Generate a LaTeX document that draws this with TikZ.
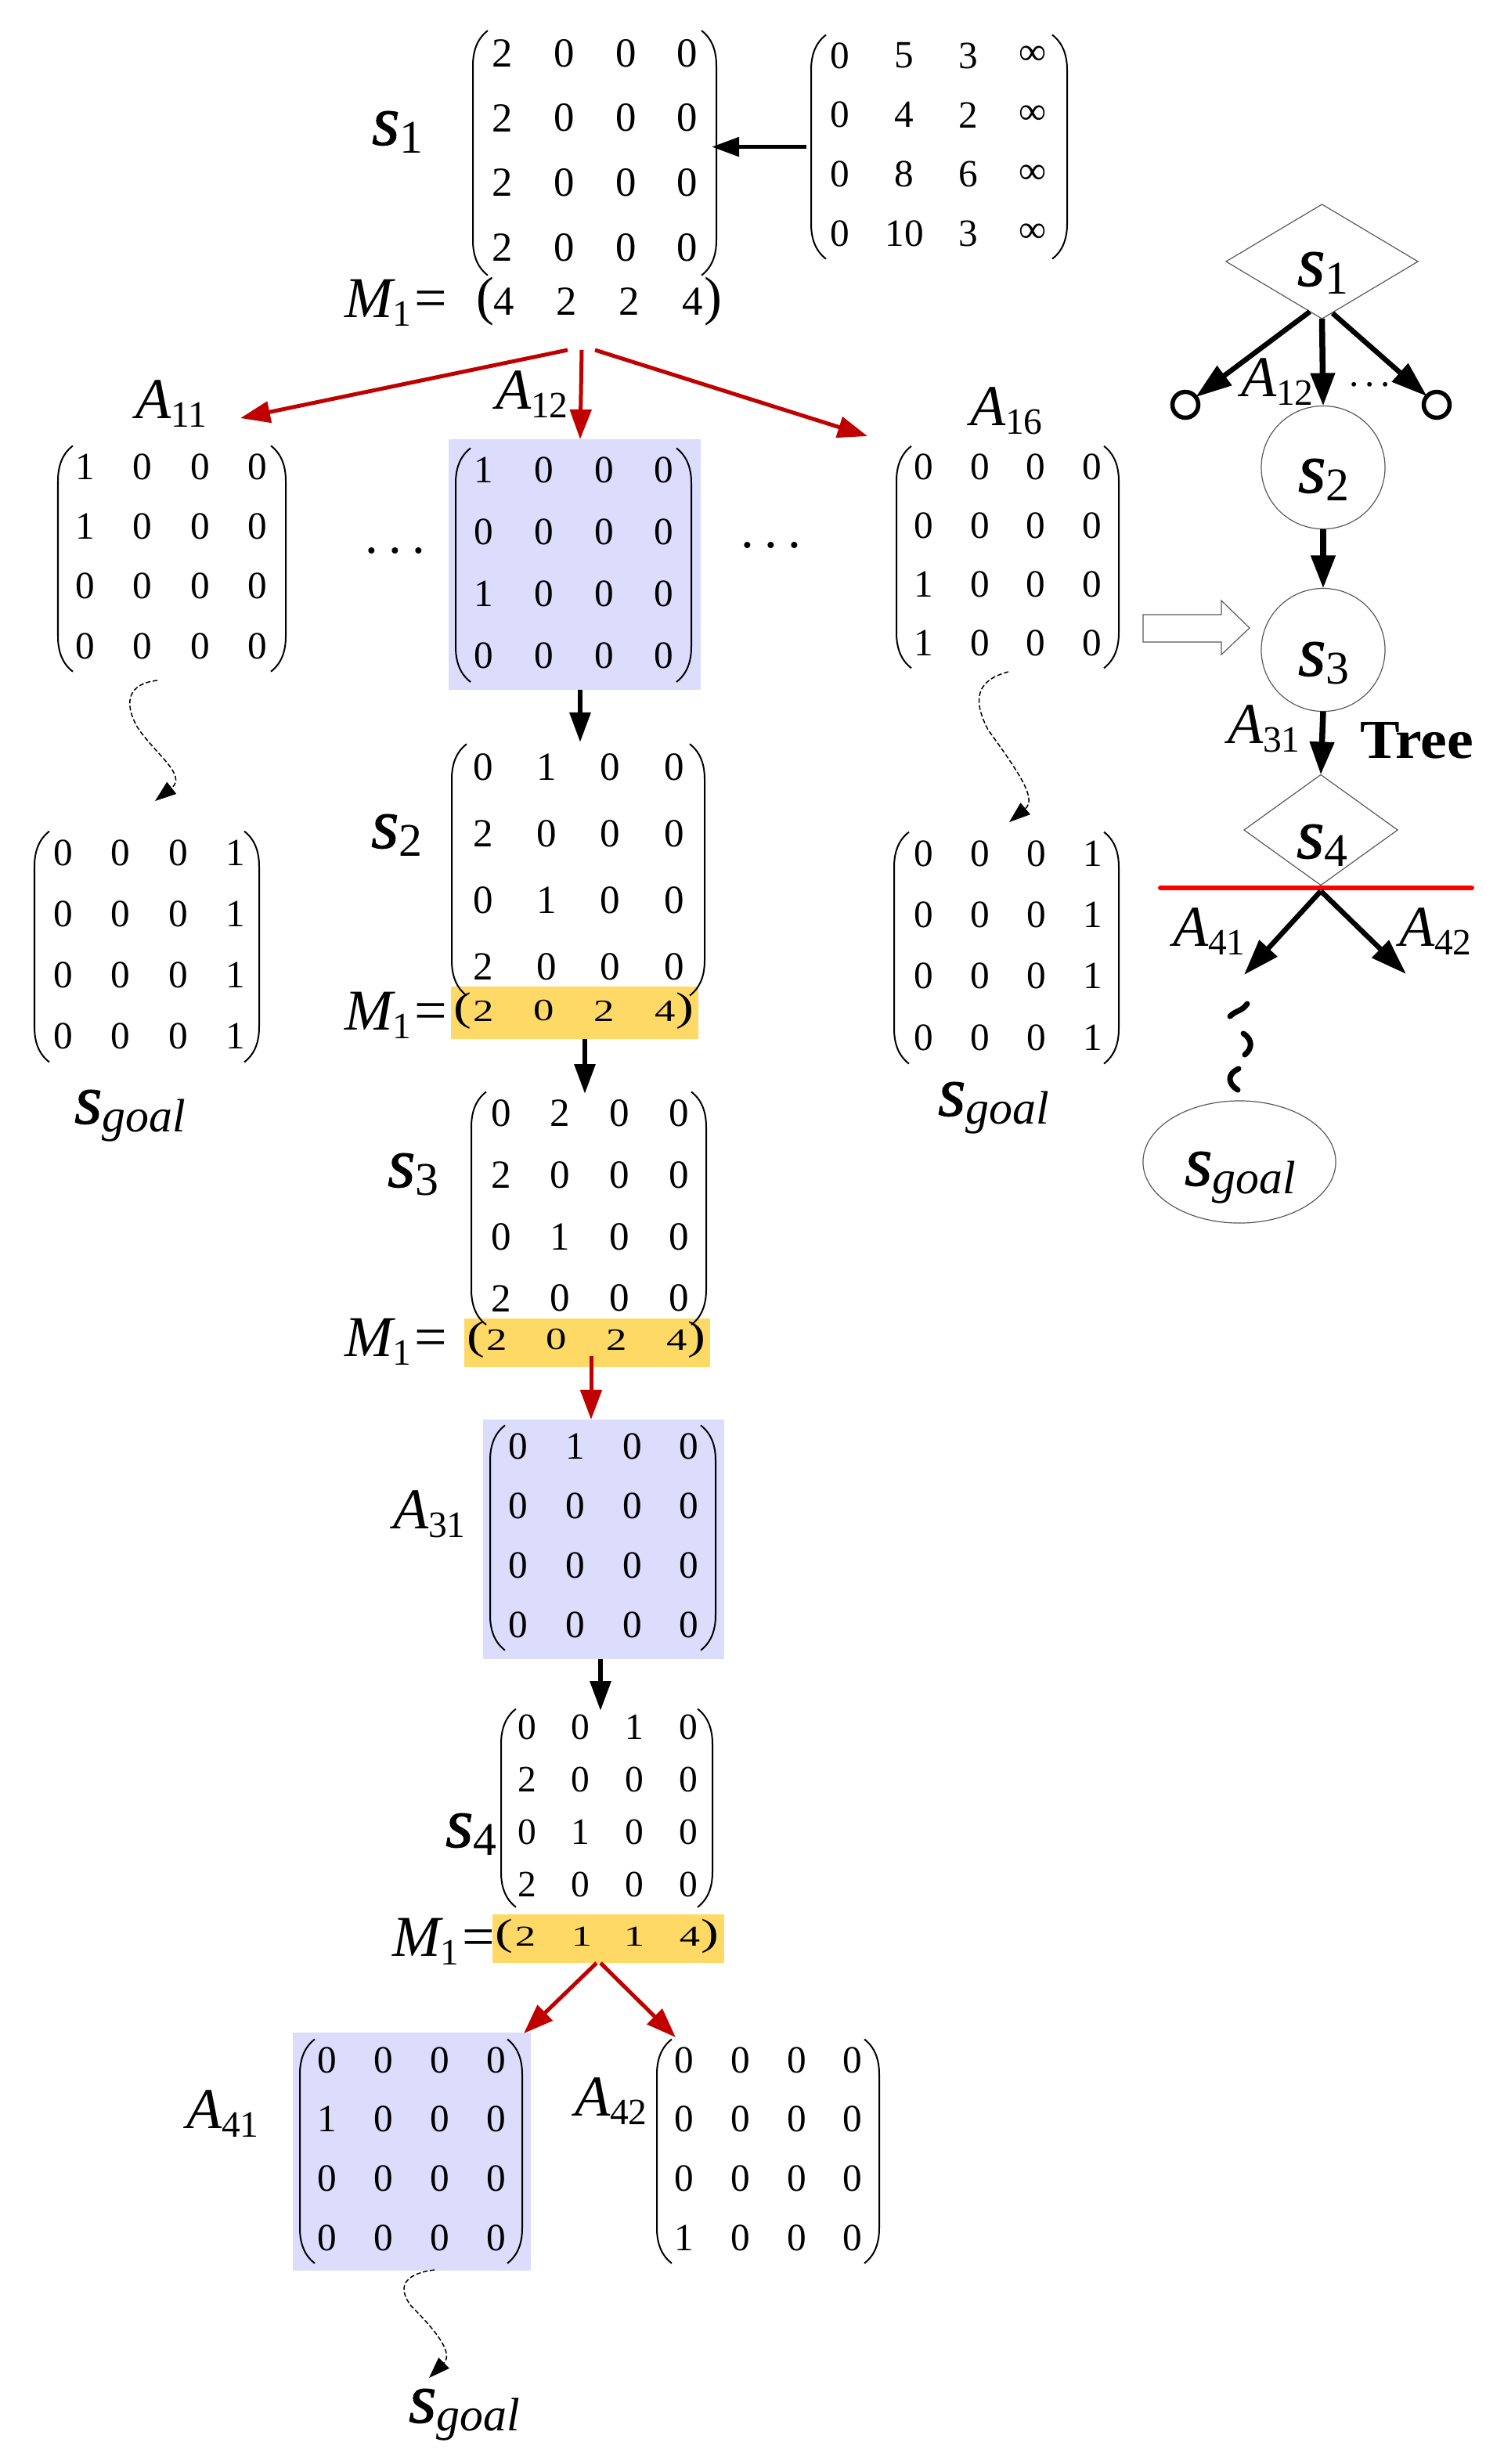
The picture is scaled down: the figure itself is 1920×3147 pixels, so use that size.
\documentclass[tikz,border=0pt]{standalone}
\usepackage{graphicx}
\usepackage{fontspec}
\setmainfont{Liberation Serif}
\newfontface\sface{Liberation Serif Italic}[FakeBold=1]
\usetikzlibrary{calc}
\usetikzlibrary{arrows.meta}
\usetikzlibrary{shapes.geometric}
\definecolor{lavbox}{HTML}{DCDCFC}
\definecolor{orbox}{HTML}{FFD966}
\definecolor{darkred}{HTML}{C00000}
\tikzset{
  brk/.style={line width=.02cm},
  lbl/.style={inner sep=0pt,outer sep=0pt,anchor=base west},
  cell/.style={inner sep=0pt,outer sep=0pt},
  blackarr/.style={line width=.06cm,-{Triangle[length=.38cm,width=.26cm]}},
  redarr/.style={line width=.05cm,darkred,-{Triangle[length=.38cm,width=.27cm]}},
  treearr/.style={line width=.075cm,-{Triangle[length=.42cm,width=.3cm]}},
  sidearr/.style={line width=.055cm,-{Triangle[length=.35cm,width=.24cm]}},
  diagarr/.style={line width=.065cm,-{Triangle[length=.46cm,width=.3cm]}},
  pathto/.style={line width=.015cm,dash pattern=on .06cm off .03cm,-{Triangle[length=.27cm,width=.19cm]}},
  wiggle/.style={line width=.07cm,line cap=round},
  thinline/.style={line width=.012cm,black!65},
  lavfill/.style={fill=lavbox,inner sep=0pt,outer sep=0pt},
  orfill/.style={fill=orbox,inner sep=0pt,outer sep=0pt},
  treeoval/.style={ellipse,draw,thinline,inner sep=0pt,outer sep=0pt},
  treediam/.style={diamond,draw,thinline,inner sep=0pt,outer sep=0pt},
  leaf/.style={circle,draw,line width=.055cm,inner sep=0pt,outer sep=0pt,minimum size=.33cm}
}
\newcommand*\alab[2]{{\fontsize{21}{21}\selectfont\itshape #1}\raisebox{-.32em}{\fontsize{13.5}{13.5}\selectfont #2}}
\newcommand*\slab[1]{{\fontsize{26}{26}\selectfont\sface s}\raisebox{-.3em}{\fontsize{17}{17}\selectfont #1}}
\newcommand*\mlab{{\fontsize{21}{21}\selectfont\itshape M}\raisebox{-.32em}{\fontsize{13.5}{13.5}\selectfont 1}\kern1.2pt{\fontsize{21}{21}\selectfont =}}
% name, size, first col, col step, first row, row step, left, right, rows
\newcommand*\matblock[9]{
  \foreach \rowvals [count=\r from 0] in {#9}{
    \foreach \v [count=\c from 0] in \rowvals{
      \node[cell,font=\fontsize{#2}{#2}\selectfont] (#1-\r-\c) at ({#3+\c*#4},{#5+\r*#6}) {\v};
    }
  }
  \pgfmathsetmacro\ytop{#5-.35*#6}
  \pgfmathsetmacro\ybot{#5+3*#6+.43*#6}
  \coordinate (#1-l) at (#7,{(\ytop+\ybot)/2});
  \coordinate (#1-r) at (#8,{(\ytop+\ybot)/2});
  \draw[brk] (#7+19,\ytop) .. controls (#7+6,\ytop+10) and (#7,\ytop+25) .. (#7,\ytop+45)
    -- (#7,\ybot-45) .. controls (#7,\ybot-25) and (#7+6,\ybot-10) .. (#7+19,\ybot);
  \draw[brk] (#8-19,\ytop) .. controls (#8-6,\ytop+10) and (#8,\ytop+25) .. (#8,\ytop+45)
    -- (#8,\ybot-45) .. controls (#8,\ybot-25) and (#8-6,\ybot-10) .. (#8-19,\ybot);
}
% name, size, y scale, y, left, right, digit/x list
\newcommand*\vecrow[7]{
  \pgfmathsetmacro\psize{#2*1.3}
  \node[cell,font=\fontsize{\psize}{\psize}\selectfont] (#1-l) at (#5,#4) {\scalebox{1}[#3]{(}};
  \node[cell,font=\fontsize{\psize}{\psize}\selectfont] (#1-r) at (#6,#4) {\scalebox{1}[#3]{)}};
  \foreach \v/\x [count=\c] in {#7}{
    \node[cell,font=\fontsize{#2}{#2}\selectfont] (#1-\c) at (\x,#4) {\scalebox{1}[#3]{\v}};
  }
}

\begin{document}
\begin{tikzpicture}[x=.01cm,y=-.01cm]
\useasboundingbox (0,0) rectangle (1920,3147);
%boxes
\node[lavfill,minimum width=3.22cm,minimum height=3.2cm] (boxA12) at (734,721) {};
\node[lavfill,minimum width=3.08cm,minimum height=3.06cm] (boxA31) at (771,1966) {};
\node[lavfill,minimum width=3.04cm,minimum height=3.03cm] (boxA41) at (526,2748) {};
\node[orfill,minimum width=3.16cm,minimum height=.67cm] (boxM2) at (734,1293) {};
\node[orfill,minimum width=3.14cm,minimum height=.62cm] (boxM3) at (750,1715) {};
\node[orfill,minimum width=2.96cm,minimum height=.62cm] (boxM4) at (777,2476) {};
%first state
\matblock{S1}{15}{642}{78.7}{68}{82.7}{604}{915}{{2,0,0,0},{2,0,0,0},{2,0,0,0},{2,0,0,0}}
\matblock{D}{14}{1073}{82}{71}{75.7}{1036}{1363}{{0,5,3,∞},{0,4,2,∞},{0,8,6,∞},{0,10,3,∞}}
\node[lbl] (labS1) at (475,185) {\slab{1}};
\node[lbl] (labM1) at (440,405) {\mlab};
\vecrow{V1}{15}{1}{385}{620}{911}{4/644,2/724,2/804,4/885}
\draw[sidearr,shorten <=.06cm,shorten >=-.06cm] (D-l) -- (D-l -| S1-r);
%actions
\matblock{A11}{14}{108.4}{73.6}{596}{76.3}{74}{365}{{1,0,0,0},{1,0,0,0},{0,0,0,0},{0,0,0,0}}
\matblock{A12}{14}{618}{76.7}{600}{79}{582}{883}{{1,0,0,0},{0,0,0,0},{1,0,0,0},{0,0,0,0}}
\matblock{A16}{14}{1180}{71.5}{596}{75}{1145}{1429}{{0,0,0,0},{0,0,0,0},{1,0,0,0},{1,0,0,0}}
\node[lbl] (labA11) at (173,534) {\alab{A}{11}};
\node[lbl] (labA12) at (633,522) {\alab{A}{12}};
\node[lbl] (labA16) at (1239,543) {\alab{A}{16}};
\node[lbl,font=\fontsize{19}{19}\selectfont] (dotsL) at (466,706) {.\kern.2em.\kern.2em.};
\node[lbl,font=\fontsize{19}{19}\selectfont] (dotsR) at (946,699) {.\kern.2em.\kern.2em.};
\coordinate (forkA) at (725,447);
\coordinate (forkB) at (743,447);
\coordinate (forkC) at (760,447);
\coordinate (endA) at (307,534);
\coordinate (endB) at (741,561);
\coordinate (endC) at (1108,557);
\draw[redarr] (forkA) -- (endA);
\draw[redarr] (forkB) -- (endB);
\draw[redarr] (forkC) -- (endC);
%goals
\matblock{GL}{14}{81}{73.3}{1089}{78}{44}{331}{{0,0,0,1},{0,0,0,1},{0,0,0,1},{0,0,0,1}}
\matblock{GR}{14}{1180}{72}{1090}{78.3}{1142}{1429}{{0,0,0,1},{0,0,0,1},{0,0,0,1},{0,0,0,1}}
\node[lbl] (labGL) at (95,1435) {\slab{\itshape goal}};
\node[lbl] (labGR) at (1198,1425) {\slab{\itshape goal}};
\draw[pathto] (201,869) .. controls (165,873) and (157,895) .. (175,928) .. controls (197,962) and (240,990) .. (198,1023);
\draw[pathto] (1288,858) .. controls (1250,868) and (1240,890) .. (1262,932) .. controls (1300,985) and (1325,1020) .. (1289,1050);
%second state
\matblock{S2}{14.5}{617}{81.3}{980}{85}{577}{900}{{0,1,0,0},{2,0,0,0},{0,1,0,0},{2,0,0,0}}
\node[lbl] (labS2) at (474,1083) {\slab{2}};
\node[lbl] (labM2) at (440,1315) {\mlab};
\vecrow{V2}{15}{.75}{1291}{591}{875}{2/618,0/695,2/772,4/850}
\coordinate (a12Out) at (741,881);
\coordinate (s2In) at (741,948);
\draw[blackarr] (a12Out) -- (s2In);
%third state
\matblock{S3}{14.5}{640}{75.7}{1422}{78.7}{602}{902}{{0,2,0,0},{2,0,0,0},{0,1,0,0},{2,0,0,0}}
\node[lbl] (labS3) at (495,1516) {\slab{3}};
\node[lbl] (labM3) at (440,1732) {\mlab};
\vecrow{V3}{15}{.75}{1711}{608}{890}{2/635,0/711,2/788,4/865}
\coordinate (m2Out) at (747,1327);
\coordinate (s3In) at (747,1397);
\draw[blackarr] (m2Out) -- (s3In);
\coordinate (m3Out) at (755,1732);
\coordinate (a31In) at (755,1813);
\draw[redarr] (m3Out) -- (a31In);
%chosen action
\matblock{A31}{14}{662}{72.7}{1847}{76}{626}{914}{{0,1,0,0},{0,0,0,0},{0,0,0,0},{0,0,0,0}}
\node[lbl] (labA31) at (502,1952) {\alab{A}{31}};
\coordinate (a31Out) at (767,2119);
\coordinate (s4In) at (767,2185);
\draw[blackarr] (a31Out) -- (s4In);
%fourth state
\matblock{S4}{13.5}{673}{68.7}{2206}{67}{640}{910}{{0,0,1,0},{2,0,0,0},{0,1,0,0},{2,0,0,0}}
\node[lbl] (labS4) at (569,2359) {\slab{4}};
\node[lbl] (labM4) at (501,2498) {\mlab};
\vecrow{V4}{15}{.7}{2473}{644}{907}{2/671,1/743,1/810,4/881}
\coordinate (m4L) at (762,2507);
\coordinate (m4R) at (767,2507);
\coordinate (a41In) at (669,2597);
\coordinate (a42In) at (863,2602);
\draw[redarr] (m4L) -- (a41In);
\draw[redarr] (m4R) -- (a42In);
\matblock{A41}{14}{418}{72}{2631}{75.7}{383}{667}{{0,0,0,0},{1,0,0,0},{0,0,0,0},{0,0,0,0}}
\matblock{A42}{14}{874}{71.7}{2631}{75.7}{839}{1123}{{0,0,0,0},{0,0,0,0},{0,0,0,0},{1,0,0,0}}
\node[lbl] (labA41) at (238,2718) {\alab{A}{41}};
\node[lbl] (labA42) at (734,2702) {\alab{A}{42}};
\node[lbl] (labGB) at (522,3094) {\slab{\itshape goal}};
\draw[pathto] (555,2899) .. controls (510,2905) and (510,2925) .. (525,2945) .. controls (555,2975) and (580,3005) .. (548,3037);
%tree
\node[treediam,minimum width=2.45cm,minimum height=1.46cm] (treeS1) at (1688.5,334) {};
\node[treeoval,minimum width=1.58cm,minimum height=1.57cm] (treeS2) at (1690,597) {};
\node[treeoval,minimum width=1.58cm,minimum height=1.57cm] (treeS3) at (1690,830) {};
\node[treediam,minimum width=1.96cm,minimum height=1.41cm] (treeS4) at (1687,1060) {};
\node[treeoval,minimum width=2.46cm,minimum height=1.56cm] (treeGoal) at (1583,1484) {};
\node[leaf] (leafL) at (1514,517) {};
\node[leaf] (leafR) at (1835,517) {};
\node[lbl] (txtS1) at (1657,365) {\slab{1}};
\node[lbl] (txtS2) at (1658,629) {\slab{2}};
\node[lbl] (txtS3) at (1658,863) {\slab{3}};
\node[lbl] (txtS4) at (1656,1096) {\slab{4}};
\node[lbl] (txtGoal) at (1513,1514) {\slab{\itshape goal}};
\node[lbl] (txtA12) at (1585,506) {\alab{A}{12}};
\node[lbl] (txtA31) at (1568,949) {\alab{A}{31}};
\node[lbl] (txtA41) at (1498,1208) {\alab{A}{41}};
\node[lbl] (txtA42) at (1787,1208) {\alab{A}{42}};
\node[lbl,font=\fontsize{14}{14}\selectfont] (dotsT) at (1723,493) {.\kern.16em.\kern.16em.};
\node[lbl,font=\fontsize{20}{20}\selectfont\bfseries] (txtTree) at (1737,968) {\scalebox{1.08}[1]{Tree}};
\coordinate (s1L) at (1673,398);
\coordinate (s1R) at (1702,400);
\coordinate (s4Fork) at (1687,1138);
\coordinate (a41End) at (1589,1245);
\coordinate (a42End) at (1796,1244);
\coordinate (cutL) at (1482,1134);
\coordinate (cutR) at (1880,1134);
\draw[diagarr] (s1L) -- (leafL);
\draw[diagarr] (s1R) -- (leafR);
\draw[treearr] (treeS1.south) -- (treeS2.north);
\draw[treearr] (treeS2.south) -- (treeS3.north);
\draw[treearr] (treeS3.south) -- (treeS4.north);
\draw[red,line width=.06cm,line cap=round] (cutL) -- (cutR);
\draw[diagarr] (s4Fork) -- (a41End);
\draw[diagarr] (s4Fork) -- (a42End);
\draw[wiggle] (1571,1298) .. controls (1579,1290) and (1586,1292) .. (1593,1282)
  (1588,1320) .. controls (1601,1328) and (1599,1340) .. (1590,1347)
  (1582,1365) .. controls (1566,1372) and (1569,1385) .. (1581,1392);
%hollow arrow
\draw[thinline] (1460,785) -- (1560,785) -- (1560,767) -- (1596,802) -- (1560,836) -- (1560,820) -- (1460,820) -- cycle;
\end{tikzpicture}
\end{document}
